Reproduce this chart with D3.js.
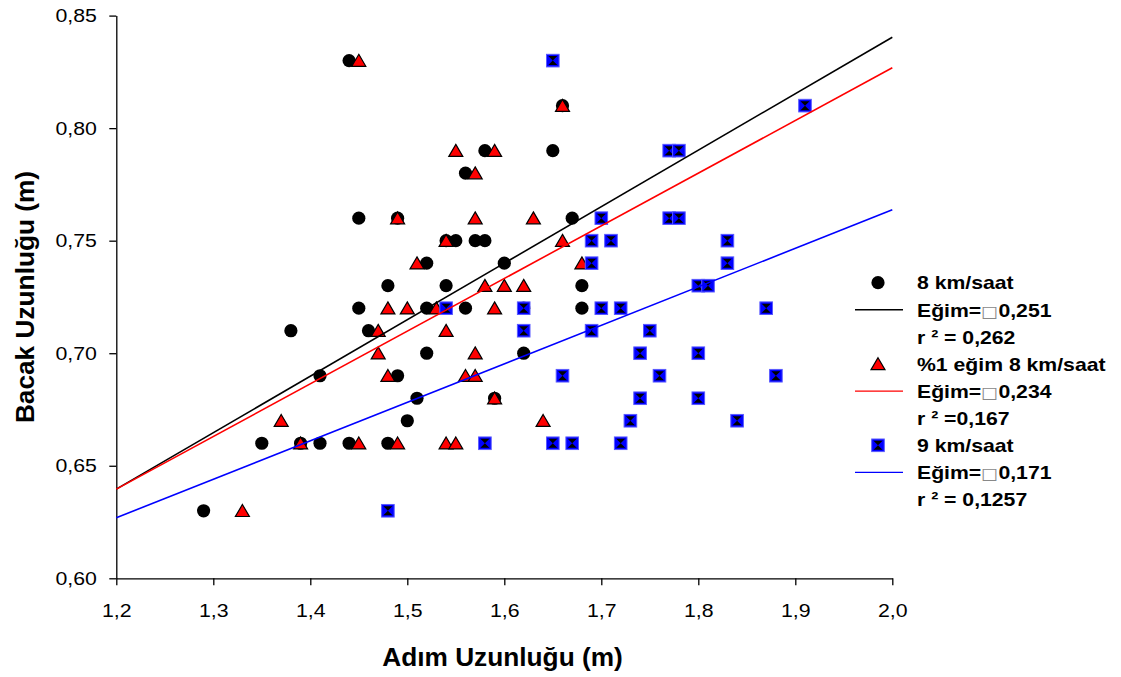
<!DOCTYPE html>
<html><head><meta charset="utf-8">
<script src="https://cdn.jsdelivr.net/npm/d3@7"></script>
<style>body{margin:0;background:#fff}svg{display:block}text{font-family:"Liberation Sans",Arial,sans-serif}</style>
</head><body><svg id="c" width="1121" height="677"></svg>
<script>
// 8 km/saat
const circX = [1.29,1.35,1.38,1.39,1.41,1.41,1.44,1.44,1.45,1.45,1.46,1.48,1.48,1.49,1.49,1.50,1.51,1.52,1.52,1.52,1.54,1.54,1.55,1.56,1.56,1.57,1.58,1.58,1.59,1.60,1.62,1.62,1.65,1.66,1.67,1.68,1.68];
const circY = [0.63,0.66,0.71,0.66,0.69,0.66,0.83,0.66,0.76,0.72,0.71,0.73,0.66,0.76,0.69,0.67,0.68,0.74,0.72,0.70,0.75,0.73,0.75,0.78,0.72,0.75,0.79,0.75,0.68,0.74,0.72,0.70,0.79,0.81,0.76,0.73,0.72];
// %1 eğim 8 km/saat
const triX = [1.33,1.37,1.39,1.45,1.45,1.47,1.47,1.48,1.48,1.49,1.49,1.50,1.51,1.53,1.54,1.54,1.54,1.55,1.55,1.56,1.57,1.57,1.57,1.57,1.58,1.59,1.59,1.59,1.60,1.62,1.63,1.64,1.66,1.66,1.68];
const triY = [0.63,0.67,0.66,0.83,0.66,0.71,0.70,0.72,0.69,0.76,0.66,0.72,0.74,0.72,0.75,0.71,0.66,0.79,0.66,0.69,0.78,0.76,0.70,0.69,0.73,0.79,0.72,0.68,0.73,0.73,0.76,0.67,0.81,0.75,0.74];
// 9 km/saat
const sqX = [1.48,1.54,1.58,1.62,1.62,1.65,1.65,1.66,1.67,1.69,1.69,1.69,1.70,1.70,1.71,1.72,1.72,1.73,1.74,1.74,1.75,1.76,1.77,1.78,1.77,1.78,1.80,1.81,1.80,1.80,1.83,1.83,1.84,1.87,1.88,1.91];
const sqY = [0.63,0.72,0.66,0.72,0.71,0.83,0.66,0.69,0.66,0.75,0.74,0.71,0.76,0.72,0.75,0.72,0.66,0.67,0.70,0.68,0.71,0.69,0.79,0.79,0.76,0.76,0.73,0.73,0.70,0.68,0.75,0.74,0.67,0.72,0.69,0.81];
// trend lines: slope, intercept
const slopes = [0.251, 0.234, 0.171];
const intercepts = [0.3384, 0.3588, 0.4217];
const lineColors = ["#000000","#ff0000","#0000ff"];
const xTicks = [1.2,1.3,1.4,1.5,1.6,1.7,1.8,1.9,2.0];
const yTicks = [0.60,0.65,0.70,0.75,0.80,0.85];
const legendLabels = [
  ["8 km/saat", "Eğim=", "0,251", "r ² = 0,262"],
  ["%1 eğim 8 km/saat", "Eğim=", "0,234", "r ² =0,167"],
  ["9 km/saat", "Eğim=", "0,171", "r ² = 0,1257"]
];
const xTitle = "Adım Uzunluğu (m)";
const yTitle = "Bacak Uzunluğu (m)";

const svg = d3.select("#c");
const x = d3.scaleLinear().domain([1.2,2.0]).range([116.3,892.3]);
const y = d3.scaleLinear().domain([0.6,0.85]).range([578.3,15.6]);
const fmt = (d,n)=>d.toFixed(n).replace(".",",");
const SX = 1.12;

const ax = svg.append("g").attr("transform","translate(0,578.3)")
  .call(d3.axisBottom(x).tickValues(xTicks).tickFormat(d=>fmt(d,1)).tickSize(7).tickSizeOuter(0).tickPadding(18));
const ay = svg.append("g").attr("transform","translate(116.3,0)")
  .call(d3.axisLeft(y).tickValues(yTicks).tickFormat(d=>fmt(d,2)).tickSize(7).tickSizeOuter(0).tickPadding(12.5));
[ax,ay].forEach(g=>{
  g.selectAll("path,line").attr("stroke","#000").attr("stroke-width",1.3);
  g.selectAll("text").attr("font-size",19).attr("fill","#000").attr("font-family","Liberation Sans, Arial, sans-serif");
  g.selectAll(".tick text").each(function(){
    const w = this.getComputedTextLength();
    d3.select(this).attr("textLength", w*SX).attr("lengthAdjust","spacingAndGlyphs");
  });
});

svg.append("text").attr("transform","translate(502.5,666) scale(1.05,1)").attr("text-anchor","middle")
  .attr("font-size",25).attr("font-weight","bold").text(xTitle);
svg.append("text").attr("transform","translate(34,297) rotate(-90) scale(1.05,1)").attr("text-anchor","middle")
  .attr("font-size",25).attr("font-weight","bold").text(yTitle);

const circData = circX.map((v,i)=>({x:v,y:circY[i]}));
const triData = triX.map((v,i)=>({x:v,y:triY[i]}));
const sqData = sqX.map((v,i)=>({x:v,y:sqY[i]}));

function drawCircle(g){ g.append("circle").attr("r",6.6).attr("fill","#000"); }
function drawTri(g){ g.append("path").attr("d","M0,-6.3L7,5.7L-7,5.7Z").attr("fill","#ff0000").attr("stroke","#000").attr("stroke-width",1.2); }
function drawSq(g){
  g.append("rect").attr("x",-6.3).attr("y",-6.3).attr("width",12.6).attr("height",12.6).attr("fill","#0000ff").attr("stroke","#5a5aff").attr("stroke-width",1);
  g.append("path").attr("d","M-4.5,-4.5L4.5,-4.5L0,0Z M-4.5,4.5L4.5,4.5L0,0Z").attr("fill","#000");
}

svg.append("g").selectAll("g").data(circData).join("g")
  .attr("transform",d=>`translate(${x(d.x)},${y(d.y)})`).each(function(){drawCircle(d3.select(this));});
svg.append("g").selectAll("g").data(triData).join("g")
  .attr("transform",d=>`translate(${x(d.x)},${y(d.y)})`).each(function(){drawTri(d3.select(this));});
svg.append("g").selectAll("g").data(sqData).join("g")
  .attr("transform",d=>`translate(${x(d.x)},${y(d.y)})`).each(function(){drawSq(d3.select(this));});

const line = d3.line().x(d=>x(d[0])).y(d=>y(d[1]));
slopes.forEach((s,i)=>{
  const pts = [1.2,2.0].map(v=>[v, intercepts[i]+s*v]);
  svg.append("path").attr("d",line(pts)).attr("fill","none").attr("stroke",lineColors[i]).attr("stroke-width",1.6);
});

// legend
const lg = svg.append("g");
const rowH = 27.1, y0 = 282.7, tx = 917, LSX = 1.14;
const markers = [drawCircle, drawTri, drawSq];
function ltext(yy){
  return lg.append("text").attr("transform",`translate(${tx},${yy}) scale(${LSX},1)`).attr("dy","0.36em")
    .attr("font-size",18.6).attr("font-weight","bold");
}
legendLabels.forEach((lab,i)=>{
  const base = y0 + i*3*rowH;
  const m = lg.append("g").attr("transform",`translate(878,${base})`); markers[i](m);
  lg.append("line").attr("x1",855).attr("x2",903).attr("y1",base+rowH).attr("y2",base+rowH)
    .attr("stroke",lineColors[i]).attr("stroke-width",1.4);
  ltext(base).text(lab[0]);
  const t2 = ltext(base+rowH);
  t2.append("tspan").text(lab[1]);
  t2.append("tspan").attr("font-weight","normal").attr("fill","#888").attr("font-family","DejaVu Sans").attr("font-size",16).text("□");
  t2.append("tspan").text(lab[2]);
  ltext(base+2*rowH).text(lab[3]);
});
</script></body></html>
